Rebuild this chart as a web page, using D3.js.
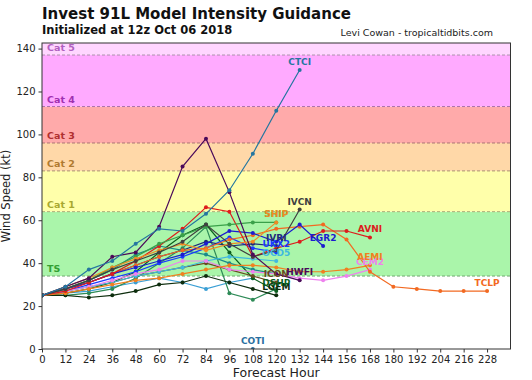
<!DOCTYPE html>
<html>
<head>
<meta charset="utf-8">
<script src="https://cdnjs.cloudflare.com/ajax/libs/d3/7.8.5/d3.min.js"></script>
<style>
  body { margin: 0; background: #fff; }
  text { font-family: "DejaVu Sans", sans-serif; }
</style>
</head>
<body>
<div id="chart"></div>
<script>
// forecast hours and y ticks
var hours = d3.range(0, 229, 12);
var speedTicks = [0, 20, 40, 60, 80, 100, 120, 140];

// saffir-simpson bands (kt)
var bandNames = ['TS', 'Cat 1', 'Cat 2', 'Cat 3', 'Cat 4', 'Cat 5'];
var bandLow = [34, 64, 83, 96, 113, 137];

// model intensity (kt), one value per 12 h from hour 0
var ctci = [25, 29, 37, 41, 49, 56, 55, 63, 74, 91, 111, 130];
var hwfi = [25, 29, 33, 43, 45, 57, 85, 98, 73, 44, 35, 32];
var ivcn = [25, 28, 32, 37, 41, 45, 50, 58, 49, 43, 46, 65];
var shipG = [25, 28, 32, 38, 43, 49, 53, 57, 58, 59, 59];
var shipO = [25, 29, 33, 38, 42, 46, 49, 46, 49, 50, 59];
var avni = [25, 27, 31, 35, 41, 48, 56, 66, 64, 43, 47, 50, 55, 55, 52];
var egr2 = [25, 28, 31, 35, 38, 41, 44, 49, 55, 54, 50, 58, 48];
var ivri = [25, 28, 31, 35, 39, 43, 46, 50, 48, 49, 48];
var ukx2 = [25, 27, 30, 33, 36, 40, 43, 47, 52, 47, 45];
var ocd5 = [25, 27, 29, 31, 34, 36, 38, 41, 43, 42, 41];
var icon = [25, 27, 29, 31, 34, 36, 38, 40, 37, 34, 31];
var dshp = [25, 26, 28, 31, 36, 45, 53, 58, 45, 33, 27];
var lgem = [25, 25, 24, 25, 27, 30, 31, 34, 31, 28, 25];
var nvgi = [25, 25, 26, 28, 33, 40, 47, 57, 26, 23, 28];
var hmni = [25, 26, 27, 29, 31, 33, 31, 28, 31, 33];
var emxi = [25, 28, 32, 37, 44, 48, 46, 44, 40, 37, 35];
var cem2 = [25, 27, 29, 32, 35, 37, 41, 41, 37, 36, 35, 33, 32, 34, 37];
var aemi = [25, 26, 28, 30, 32, 33, 35, 37, 39, 39, 38, 36, 36, 37, 39];
var tclp = [25, 28, 31, 35, 39, 43, 46, 47, 51, 53, 56, 57, 58, 51, 36, 29, 28, 27, 27, 27];
var coti = [null, null, null, null, null, null, null, null, null, 0];

var models = [
  {label: 'COTI', color: '#2a6fa0', vals: coti},
  {label: '', color: '#3a9fd5', vals: hmni},
  {label: '', color: '#2e8b57', vals: nvgi},
  {label: 'LGEM', color: '#0d2d0d', vals: lgem},
  {label: 'DSHP', color: '#0b5e1e', vals: dshp},
  {label: '', color: '#1a8a8a', vals: emxi},
  {label: 'ICON', color: '#6a4a20', vals: icon},
  {label: 'OCD5', color: '#40b8e0', vals: ocd5},
  {label: 'UKX2', color: '#1a3aff', vals: ukx2},
  {label: 'IVRI', color: '#1f2a7a', vals: ivri},
  {label: 'CEM2', color: '#ee82ee', vals: cem2},
  {label: 'AEMI', color: '#f08020', vals: aemi},
  {label: 'TCLP', color: '#f26a22', vals: tclp},
  {label: 'EGR2', color: '#1c1cd0', vals: egr2},
  {label: 'AVNI', color: '#dd1c1c', vals: avni},
  {label: 'SHIP', color: '#3aa04a', vals: shipG},
  {label: 'SHIP', color: '#f08a24', vals: shipO},
  {label: 'IVCN', color: '#404040', vals: ivcn},
  {label: 'HWFI', color: '#4b0a5a', vals: hwfi},
  {label: 'CTCI', color: '#2476a0', vals: ctci}
];

var bandColors = ['#aaf5aa', '#ffffaa', '#ffd8a8', '#ffaaaa', '#ffaaff', '#ffd6ff'];
var bandText = ['#33a033', '#a8a830', '#b07a30', '#b03030', '#a030b0', '#b060c0'];

var W = 532, H = 380;
var plot = {left: 42, right: 510.5, top: 43, bottom: 349};

var x = d3.scaleLinear().domain([0, 240]).range([plot.left, plot.right]);
var y = d3.scaleLinear().domain([0, 142.6]).range([plot.bottom, plot.top]);

var svg = d3.select('#chart').append('svg').attr('width', W).attr('height', H);

svg.append('clipPath').attr('id', 'clip').append('rect')
  .attr('x', plot.left).attr('y', plot.top)
  .attr('width', plot.right - plot.left).attr('height', plot.bottom - plot.top);

// bands
var bands = svg.append('g');
bandLow.forEach(function(lo, i) {
  var hi = i < bandLow.length - 1 ? bandLow[i + 1] : 142.6;
  bands.append('rect')
    .attr('x', plot.left).attr('width', plot.right - plot.left)
    .attr('y', y(hi)).attr('height', y(lo) - y(hi))
    .style('fill', bandColors[i]);
  bands.append('line')
    .attr('x1', plot.left).attr('x2', plot.right)
    .attr('y1', y(lo)).attr('y2', y(lo))
    .style('stroke', d3.color(bandColors[i]).darker(1.1))
    .style('stroke-width', 1)
    .style('stroke-dasharray', '3,2');
  bands.append('text')
    .attr('x', plot.left + 5).attr('y', y(lo + 3.5) + 3.5)
    .style('font-size', '9.5px').style('font-weight', 'bold')
    .style('fill', bandText[i])
    .text(bandNames[i]);
});

// lines
var line = d3.line()
  .defined(function(d) { return d[1] !== null; })
  .x(function(d) { return x(d[0]); })
  .y(function(d) { return y(d[1]); });

var gLines = svg.append('g').attr('clip-path', 'url(#clip)');
models.forEach(function(m) {
  var pts = m.vals.map(function(v, i) { return [hours[i], v]; });
  gLines.append('path').datum(pts).attr('d', line)
    .style('fill', 'none').style('stroke', m.color).style('stroke-width', 1.2);
  gLines.selectAll(null).data(pts.filter(function(p) { return p[1] !== null; }))
    .enter().append('circle')
    .attr('cx', function(d) { return x(d[0]); })
    .attr('cy', function(d) { return y(d[1]); })
    .attr('r', 2)
    .style('fill', m.color);
});

// model labels at the last point
models.forEach(function(m) {
  if (!m.label) return;
  var last = m.vals.length - 1;
  svg.append('text')
    .attr('x', x(hours[last])).attr('y', y(m.vals[last]) - 5)
    .attr('text-anchor', 'middle')
    .style('font-size', '9px').style('font-weight', 'bold')
    .style('fill', m.color)
    .text(m.label);
});

// frame
svg.append('rect')
  .attr('x', plot.left).attr('y', plot.top)
  .attr('width', plot.right - plot.left).attr('height', plot.bottom - plot.top)
  .style('fill', 'none').style('stroke', '#333').style('stroke-width', 1);

var xAxis = svg.append('g').attr('transform', 'translate(0,' + plot.bottom + ')')
  .call(d3.axisBottom(x).tickValues(hours).tickSize(3.5).tickPadding(3));
var yAxis = svg.append('g').attr('transform', 'translate(' + plot.left + ',0)')
  .call(d3.axisLeft(y).tickValues(speedTicks).tickSize(3.5).tickPadding(3));
[xAxis, yAxis].forEach(function(a) {
  a.select('.domain').remove();
  a.selectAll('line').style('stroke', '#333');
  a.selectAll('text').style('font-family', '"DejaVu Sans", sans-serif')
    .style('font-size', '10px').style('fill', '#222');
});

svg.append('text')
  .attr('x', (plot.left + plot.right) / 2).attr('y', 377)
  .attr('text-anchor', 'middle').style('font-size', '12.5px').style('fill', '#222')
  .text('Forecast Hour');
svg.append('text')
  .attr('transform', 'translate(10,' + ((plot.top + plot.bottom) / 2) + ') rotate(-90)')
  .attr('text-anchor', 'middle').style('font-size', '11.5px').style('fill', '#222')
  .text('Wind Speed (kt)');

// titles
svg.append('text').attr('x', 42).attr('y', 19)
  .style('font-size', '15px').style('font-weight', 'bold').style('fill', '#111')
  .text('Invest 91L Model Intensity Guidance');
svg.append('text').attr('x', 42).attr('y', 34)
  .style('font-size', '11.5px').style('font-weight', 'bold').style('fill', '#111')
  .text('Initialized at 12z Oct 06 2018');
svg.append('text').attr('x', 493).attr('y', 36).attr('text-anchor', 'end')
  .style('font-size', '9.5px').style('fill', '#222')
  .text('Levi Cowan - tropicaltidbits.com');
</script>
</body>
</html>
